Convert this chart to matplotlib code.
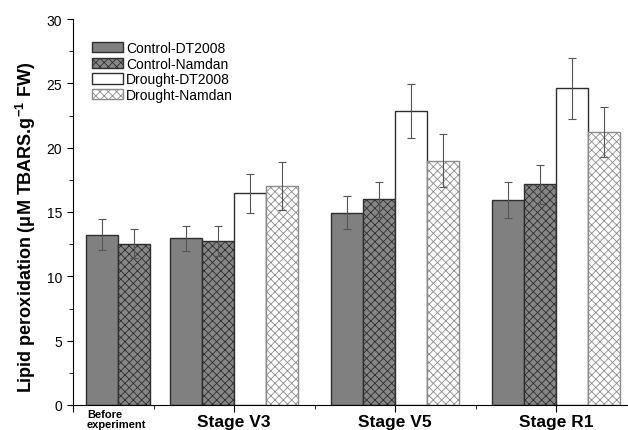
import numpy as np
import matplotlib
matplotlib.use("Agg")
from matplotlib import pyplot as plt
from matplotlib.ticker import MultipleLocator, FixedLocator

plt.rcParams['font.family'] = ['Liberation Sans', 'DejaVu Sans']
plt.rcParams['mathtext.fontset'] = 'custom'
plt.rcParams['mathtext.rm'] = 'Liberation Sans:bold'
plt.rcParams['mathtext.default'] = 'rm'
plt.rcParams['hatch.linewidth'] = 0.6

# data
groups = ['Before\nexperiment', 'Stage V3', 'Stage V5', 'Stage R1']
series = ['Control-DT2008', 'Control-Namdan', 'Drought-DT2008', 'Drought-Namdan']
control_dt = [13.25, 12.95, 14.95, 15.95]
control_dt_err = [1.2, 1.0, 1.3, 1.4]
control_nd = [12.55, 12.72, 16.0, 17.15]
control_nd_err = [1.15, 1.17, 1.37, 1.5]
drought_dt = [np.nan, 16.45, 22.85, 24.6]
drought_dt_err = [np.nan, 1.5, 2.1, 2.35]
drought_nd = [np.nan, 17.0, 19.0, 21.2]
drought_nd_err = [np.nan, 1.85, 2.05, 1.95]

values = [control_dt, control_nd, drought_dt, drought_nd]
errors = [control_dt_err, control_nd_err, drought_dt_err, drought_nd_err]
fills = ['#808080', '#868686', 'white', 'white']
edges = ['#2e2e2e', '#2e2e2e', '#2e2e2e', '#8c8c8c']
hatches = [None, 'xxxx', None, 'xxxx']

centers = np.array([0.28, 1.0, 2.0, 3.0])
width = 0.2

fig = plt.figure(figsize=(6.28, 4.31), dpi=100)
ax = fig.add_axes([73 / 628, 1 - 406 / 431, 555 / 628, 386 / 431])

for i in range(4):
    xs, ys, es = [], [], []
    for g in range(4):
        if np.isnan(values[i][g]):
            continue
        n = 2 if g == 0 else 4
        off = (i - (n - 1) / 2) * width
        xs.append(centers[g] + off)
        ys.append(values[i][g])
        es.append(errors[i][g])
    ax.bar(xs, ys, width=width, color=fills[i], edgecolor=edges[i],
           hatch=hatches[i], linewidth=1.0, label=series[i], zorder=2)
    ax.errorbar(xs, ys, yerr=es, fmt='none', ecolor='#555555',
                elinewidth=0.8, capsize=3, capthick=0.8, zorder=3)

ax.set_xlim(0, 555 / 161)
ax.set_ylim(0, 30)
ax.spines['top'].set_visible(False)
ax.spines['right'].set_visible(False)

ax.xaxis.set_major_locator(FixedLocator([0, 1, 2, 3]))
ax.xaxis.set_minor_locator(FixedLocator([0.5, 1.5, 2.5]))
ax.set_xticklabels([''] + groups[1:], fontsize=12.5, fontweight='bold')
ax.tick_params(axis='x', which='major', length=5, pad=1.5)
ax.tick_params(axis='x', which='minor', length=3)
ax.text(0.087, -0.01, groups[0], transform=ax.get_xaxis_transform(),
        ha='left', va='top', fontsize=8, fontweight='bold', linespacing=1.05)

ax.yaxis.set_major_locator(MultipleLocator(5))
ax.yaxis.set_minor_locator(MultipleLocator(2.5))
ax.tick_params(axis='y', which='major', length=4.5, labelsize=10)
ax.tick_params(axis='y', which='minor', length=3)

ax.set_ylabel('Lipid peroxidation (\u03bcM TBARS.g$^{-1}$ FW)',
              fontsize=13, fontweight='bold')
ax.yaxis.set_label_coords(-0.063, 0.462)

ax.legend(loc='upper left', bbox_to_anchor=(92 / 628, 1 - 42 / 431),
          bbox_transform=fig.transFigure, frameon=False, fontsize=10,
          handlelength=2.2, handleheight=0.8, handletextpad=0.25,
          labelspacing=0.12, borderpad=0, borderaxespad=0)

fig.savefig('out.png', dpi=100)
